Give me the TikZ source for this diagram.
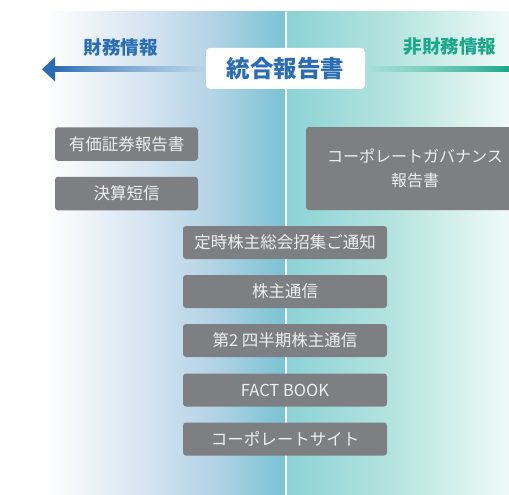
\documentclass[tikz,border=0pt]{standalone}
\usepackage{fontspec}
\setmainfont{Noto Sans CJK JP}
\newfontfamily\jpfont{Noto Sans CJK JP}
\usetikzlibrary{fadings}
\definecolor{arrowblue}{HTML}{2A6DB5}
\definecolor{arrowgreen}{HTML}{1BA88A}
\definecolor{boxgray}{HTML}{7E7F83}
\definecolor{boxtext}{HTML}{EEEEEE}
\definecolor{lbA}{HTML}{FFFFFF}
\definecolor{lbB}{HTML}{D3E3F0}
\definecolor{lbC}{HTML}{B2D2E5}
\definecolor{lbD}{HTML}{79C3D3}
\definecolor{rbA}{HTML}{8CD2D6}
\definecolor{rbB}{HTML}{B8E5E0}
\definecolor{rbC}{HTML}{F0FAF7}
\tikzset{
  infobox/.style={fill=boxgray, rounded corners=3pt, inner sep=0pt,
    text=boxtext, font=\jpfont\fontsize{16.5}{19.5}\selectfont, align=center},
  midbox/.style={infobox, minimum width=204pt, minimum height=33pt},
  leftbox/.style={infobox, minimum width=143pt, minimum height=33.5pt},
  headlabel/.style={font=\jpfont\bfseries\fontsize{18.5}{21}\selectfont, inner sep=0pt}
}
\begin{document}
\begin{tikzpicture}[x=1pt,y=-1pt]
\clip (0,0) rectangle (509,495);
\fill[white] (0,0) rectangle (509,495);
% background gradients
\shade[left color=lbA, right color=lbB] (45,12) rectangle (150,495);
\shade[left color=lbB, right color=lbC] (149.5,12) rectangle (215,495);
\shade[left color=lbC, right color=lbD] (214.5,12) rectangle (285.5,495);
\shade[left color=rbA, right color=rbB] (285,12) rectangle (400,495);
\shade[left color=rbB, right color=rbC] (399.5,12) rectangle (509,495);
\fill[white] (285,12) rectangle (287,495);
% arrows
\fill[arrowblue, path fading=east] (54,66) rectangle (205,72.5);
\fill[arrowblue] (42,69.25) -- (55,57) -- (55,81.5) -- cycle;
\fill[arrowgreen, path fading=west] (365,66) rectangle (509,72.5);
% labels
\node[headlabel, text=arrowblue] (fin) at (120.5,47) {財務情報};
\node[headlabel, text=arrowgreen] (nonfin) at (450,47) {非財務情報};
% central box
\node[fill=white, rounded corners=4pt, minimum width=159pt, minimum height=41pt, inner sep=0pt,
  text=arrowblue, font=\jpfont\bfseries\fontsize{23.5}{27}\selectfont] (ir) at (285.5,68.5) {統合報告書};
% left boxes
\node[leftbox] (yuho) at (126.5,144) {有価証券報告書};
\node[leftbox] (tanshin) at (126.5,193.5) {決算短信};
% right box
\node[infobox, minimum width=218pt, minimum height=83pt, font=\jpfont\fontsize{16}{23.5}\selectfont] (cg) at (415,168.5) {コーポレートガバナンス\\報告書};
% middle boxes
\node[midbox] (shosyu) at (285,242.5) {定時株主総会招集ご通知};
\node[midbox] (tsushin) at (285,291.5) {株主通信};
\node[midbox] (q2) at (285,340.5) {第2 四半期株主通信};
\node[midbox] (fact) at (285,390) {FACT BOOK};
\node[midbox] (site) at (285,439) {コーポレートサイト};
\end{tikzpicture}
\end{document}
